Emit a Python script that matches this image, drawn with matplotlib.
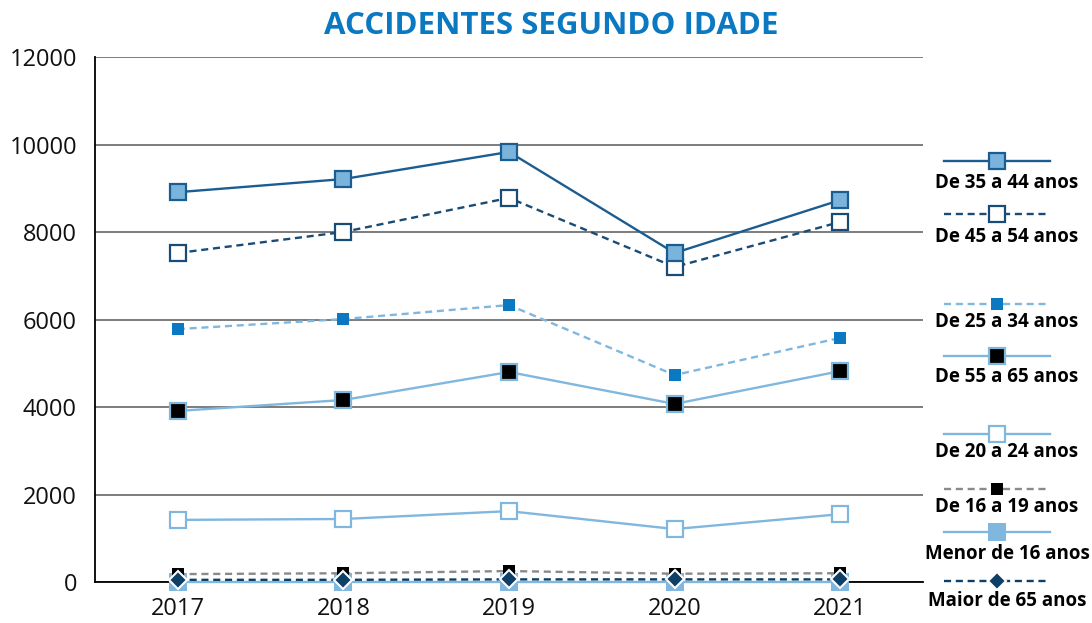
import matplotlib.pyplot as plt
from matplotlib.lines import Line2D

# data
years = ['2017', '2018', '2019', '2020', '2021']
de_35_44 = [8910, 9210, 9830, 7520, 8730]
de_45_54 = [7520, 8000, 8780, 7200, 8230]
de_25_34 = [5780, 6010, 6330, 4730, 5580]
de_55_65 = [3910, 4160, 4800, 4070, 4820]
de_20_24 = [1420, 1440, 1620, 1210, 1550]
de_16_19 = [180, 200, 250, 190, 200]
menor_16 = [0, 0, 0, 0, 0]
maior_65 = [50, 50, 60, 60, 60]
yticks = [0, 2000, 4000, 6000, 8000, 10000, 12000]

DARK = '#1c5d91'
DARK2 = '#184c76'
LIGHT = '#80b7de'
MID = '#0b78c2'
NAVY = '#0e3f66'
GREY = '#8a8a8a'
DASH = (0, (3, 2))

# label, values, line style kwargs
series = [
    ('Menor de 16 anos', menor_16, dict(color=LIGHT, ls='-', marker='s', ms=13, mfc=LIGHT, mec=LIGHT, mew=0)),
    ('De 16 a 19 anos', de_16_19, dict(color=GREY, ls=DASH, marker='s', ms=8.5, mfc='black', mec='black', mew=0)),
    ('Maior de 65 anos', maior_65, dict(color=NAVY, ls=DASH, marker='D', ms=9.5, mfc=NAVY, mec='white', mew=1.5)),
    ('De 20 a 24 anos', de_20_24, dict(color=LIGHT, ls='-', marker='s', ms=11.5, mfc='white', mec=LIGHT, mew=1.6)),
    ('De 55 a 65 anos', de_55_65, dict(color=LIGHT, ls='-', marker='s', ms=11.5, mfc='black', mec=LIGHT, mew=1.6)),
    ('De 25 a 34 anos', de_25_34, dict(color=LIGHT, ls=DASH, marker='s', ms=9, mfc=MID, mec=MID, mew=0)),
    ('De 45 a 54 anos', de_45_54, dict(color=DARK2, ls=DASH, marker='s', ms=11.5, mfc='white', mec=DARK2, mew=1.6)),
    ('De 35 a 44 anos', de_35_44, dict(color=DARK, ls='-', marker='s', ms=11.5, mfc='#7ab4dc', mec=DARK, mew=1.6)),
]

plt.rcParams['font.family'] = ['Open Sans', 'DejaVu Sans']

fig = plt.figure(figsize=(10.92, 6.23), dpi=100)
ax = fig.add_axes([95 / 1092, 41 / 623, 828 / 1092, 525 / 623])

x = list(range(len(years)))
for i, (label, vals, kw) in enumerate(series):
    ax.plot(x, vals, lw=1.7, clip_on=False, zorder=3 + i, **kw)

ax.set_xlim(-0.5, 4.5)
ax.set_ylim(0, 12000)
ax.set_xticks(x)
ax.set_xticklabels(years)
ax.set_yticks(yticks)
ax.set_yticklabels([str(v) for v in yticks])
ax.tick_params(length=0, labelsize=17, colors='#111111')
ax.tick_params(axis='x', pad=11)
ax.tick_params(axis='y', pad=13)
ax.grid(axis='y', color='#666666', lw=1.2)
ax.set_axisbelow(True)
for s in ['top', 'right']:
    ax.spines[s].set_visible(False)
for s in ['left', 'bottom']:
    ax.spines[s].set_color('black')
    ax.spines[s].set_linewidth(1.3)
ax.spines['bottom'].set_zorder(2)

fig.text(551 / 1092, 1 - 26 / 623, 'ACCIDENTES SEGUNDO IDADE', ha='center', va='center',
         color=MID, fontsize=22.5, fontweight='bold')

# custom legend on the right, in pixel coordinates
lg = fig.add_axes([0, 0, 1, 1])
lg.set_xlim(0, 1092)
lg.set_ylim(623, 0)
lg.axis('off')
lg.patch.set_alpha(0)
legend_pos = {
    'De 35 a 44 anos': (161, 183),
    'De 45 a 54 anos': (214, 237),
    'De 25 a 34 anos': (304, 322),
    'De 55 a 65 anos': (356, 377),
    'De 20 a 24 anos': (434, 452),
    'De 16 a 19 anos': (489, 507),
    'Menor de 16 anos': (532, 554),
    'Maior de 65 anos': (581, 601),
}
for label, vals, kw in series:
    ly, ty = legend_pos[label]
    lg.add_line(Line2D([944, 1050], [ly, ly], lw=1.7, **{k: v for k, v in kw.items() if k != 'marker'}))
    lg.plot([997], [ly], ls='none', **{k: v for k, v in kw.items() if k not in ('color', 'ls')})
    lg.text(1007, ty, label, ha='center', va='center', fontsize=13.5, fontweight='bold', color='black')

fig.savefig('out.png', dpi=100)
